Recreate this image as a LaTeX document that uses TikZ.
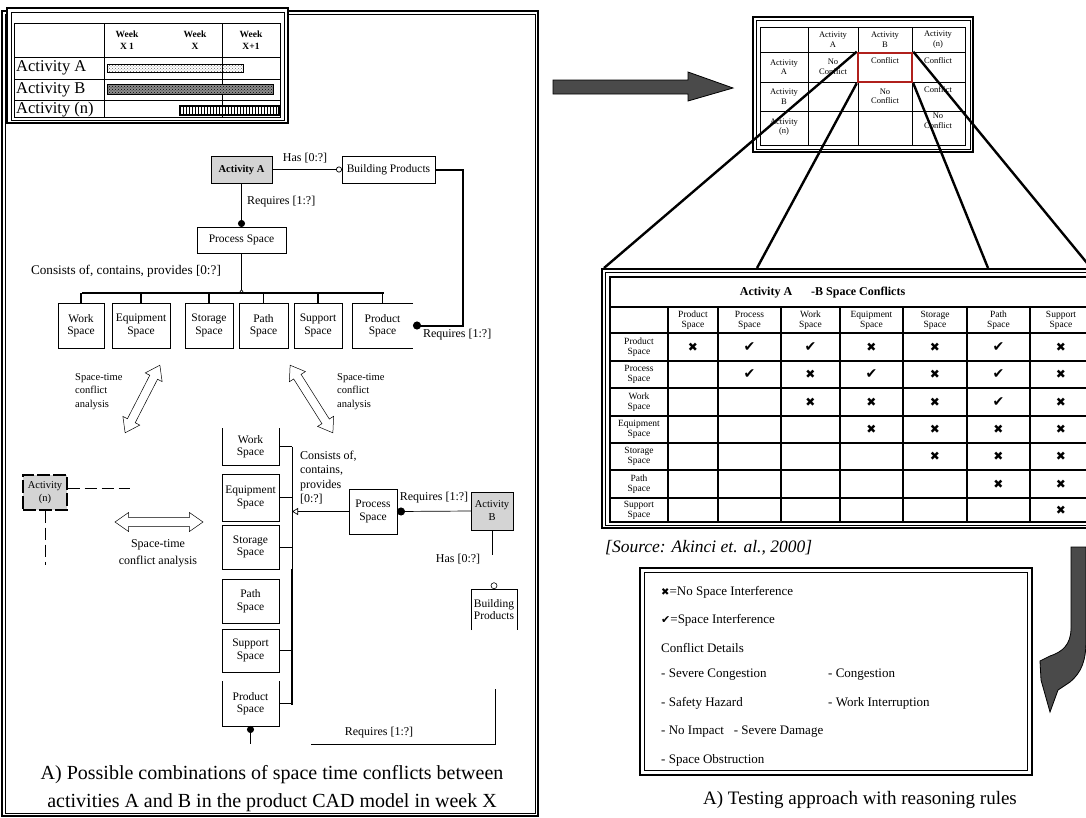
\documentclass[tikz,border=0pt]{standalone}
\usepackage{fontspec}
\setmainfont{Liberation Serif}
\newfontfamily\symf{DejaVu Sans}
\usetikzlibrary{arrows.meta,shapes.arrows,patterns}
\definecolor{gfill}{HTML}{D4D4D4}
\definecolor{agray}{HTML}{4A4A4A}
\definecolor{cred}{HTML}{B0201C}
\newcommand\fsz[2]{\fontsize{#1}{#2}\selectfont}
\newcommand\bx[7][]{\pgfmathsetmacro\bxw{#5-#3}\pgfmathsetmacro\bxh{#6-#4}%
 \node[bxs,minimum width=\bxw pt,minimum height=\bxh pt,#1] (#2) at ({(#3+#5)/2},{(#4+#6)/2}) {#7};}
\begin{document}
\begin{tikzpicture}[x=1pt,y=-1pt,
 bxs/.style={draw,line width=0.7pt,inner sep=0pt,outer sep=0pt,align=center,font=\fsz{11.5}{12.5}},
 lbl/.style={inner sep=0pt,outer sep=0pt,align=left,font=\fsz{12}{13}},
 stl/.style={inner sep=0pt,align=left,font=\fsz{10.5}{13.5}},
 dbl/.style={double arrow,draw,line width=0.5pt,fill=white,double arrow head extend=5pt,double arrow tip angle=70,minimum width=19pt,inner xsep=0pt,inner ysep=4pt},
 sm/.style={inner sep=0pt,align=center,font=\fsz{8.5}{9.5}},
 th/.style={inner sep=0pt,align=center,font=\fsz{9.5}{10}},
 cx/.style={inner sep=0pt,font=\symf\fsz{12}{12}},
 ck/.style={inner sep=0pt,font=\symf\fsz{14}{14}},
 leg/.style={inner sep=0pt,anchor=west,font=\fsz{13}{13}},
 cone/.style={line width=2.4pt},
 vln/.style={line width=1.6pt},
 hln/.style={line width=1.1pt}]
\useasboundingbox (0,0) rectangle (1086,817);
\fill[white] (0,0) rectangle (1086,817);

% ===== left panel frame =====
\draw[line width=1.2pt] (2,11) rectangle (538,816);
\draw[line width=0.6pt] (5,14) rectangle (535,813);

% ===== schedule table =====
\fill[white] (7,8) rectangle (288,123);
\draw[line width=1.5pt] (7,8) rectangle (288,123);
\draw[line width=0.8pt] (11,12) rectangle (284,120);
\draw[line width=1pt] (14,23) rectangle (280,117);
\foreach \yy in {57,79,100} \draw[line width=1pt] (14,\yy) -- (280,\yy);
\draw[line width=1pt] (104,23) -- (104,117);
\draw[line width=1pt] (222,23) -- (222,117);
\node[inner sep=0pt,align=center,font=\bfseries\fsz{9.5}{12}] (w1) at (127,40) {Week\\X 1};
\node[inner sep=0pt,align=center,font=\bfseries\fsz{9.5}{12}] (w2) at (195,40) {Week\\X};
\node[inner sep=0pt,align=center,font=\bfseries\fsz{9.5}{12}] (w3) at (251,40) {Week\\X+1};
\node[inner sep=0pt,anchor=west,font=\fsz{16.5}{16}] (rA) at (16,68) {Activity A};
\node[inner sep=0pt,anchor=west,font=\fsz{16.5}{16}] (rB) at (16,89.5) {Activity B};
\node[inner sep=0pt,anchor=west,font=\fsz{16.5}{16}] (rN) at (16,109.5) {Activity (n)};
\draw[pattern=crosshatch dots,pattern color=black!60,line width=0.8pt] (107,64) rectangle (243,72);
\fill[black!45] (107,84) rectangle (273,94);
\draw[pattern=crosshatch dots,line width=0.8pt] (107,84) rectangle (273,94);
\draw[pattern=vertical lines,line width=1.5pt] (180,106) rectangle (279,115);

% ===== upper class diagram =====
\bx[fill=gfill,font=\bfseries\fsz{10.5}{12}]{actA}{211}{156}{272}{183}{Activity A}
\bx{bp}{342}{156}{435}{183}{Building Products}
\bx{ps}{197}{227}{286}{253}{Process Space}
\node[lbl] (has1) at (305,158) {Has [0:?]};
\node[lbl,anchor=west] (req1) at (247,202) {Requires [1:?]};
\node[lbl,anchor=west,font=\fsz{13.2}{14}] (cons1) at (31,271) {Consists of, contains, provides [0:?]};
\draw[line width=0.7pt,-{Circle[open,length=6pt,width=6pt]}] (actA.east) -- (bp.west);
\draw[line width=0.9pt,-{Circle[length=7pt,width=7pt]}] (actA.south) -- (ps.north);

\bx{ws1}{58}{303}{104}{348}{Work\\Space}
\bx{eq1}{112}{303}{170}{348}{Equipment\\Space}
\bx{st1}{185}{303}{233}{348}{Storage\\Space}
\bx{pa1}{239}{303}{288}{348}{Path\\Space}
\bx{su1}{294}{303}{342}{348}{Support\\Space}
\bx[draw=none]{pd1}{352}{303}{413}{348}{Product\\Space}
\draw[line width=0.7pt] (pd1.north east) -- (pd1.north west) -- (pd1.south west) -- (pd1.south east);

\coordinate (bar) at (82,293);
\coordinate (barR) at (384,293);
\draw[line width=0.7pt,-{Triangle[open,reversed,length=4pt,width=5pt]}] (ps.south) -- (ps.south |- bar);
\draw[line width=2pt] (bar) -- (barR);
\foreach \n in {ws1,eq1,st1,pa1,su1,pd1} \draw[line width=1.3pt] (\n.north) -- (\n.north |- bar);

\coordinate (bpc) at (463,325.5);
\draw[line width=2pt,-{Circle[length=8pt,width=8pt]}] (bp.east) -| (bpc) -- (pd1.east);
\node[lbl,anchor=north west] (req2) at (423,329) {Requires [1:?]};

% space-time arrows
\node[dbl,minimum height=76pt,rotate=62.8] (sta1) at (142.5,399) {};
\node[dbl,minimum height=80pt,rotate=-57.7] (sta2) at (311.5,399) {};
\node[dbl,minimum height=88pt] (sta3) at (159,522) {};
\node[stl,anchor=north west] (stl1) at (75,373) {Space-time\\conflict\\analysis};
\node[stl,anchor=north west] (stl2) at (337,373) {Space-time\\conflict\\analysis};
\node[inner sep=0pt,align=center,font=\fsz{12}{17}] (stl3) at (158,553) {Space-time\\conflict analysis};

% activity (n)
\node[fill=gfill,draw,line width=1.2pt,dash pattern=on 13pt off 3pt,minimum width=44pt,minimum height=35pt,inner sep=0pt,align=center,font=\fsz{10.5}{13}] (actn) at (45,492.5) {Activity\\(n)};
\coordinate (dn1) at (130,488);
\coordinate (dn2) at (45,565);
\draw[line width=1pt,dash pattern=on 12pt off 5pt] (actn.east |- dn1) -- (dn1);
\draw[line width=1pt,dash pattern=on 12pt off 5pt] (actn.south) -- (dn2);

% ===== lower class diagram =====
\bx[draw=none]{ws2}{222}{428}{279}{465}{Work\\Space}
\draw[line width=0.7pt] (ws2.north west) -- (ws2.south west) -- (ws2.south east) -- (ws2.north east);
\bx{eq2}{222}{474}{279}{521}{Equipment\\Space}
\bx{st2}{222}{525}{279}{569}{Storage\\Space}
\bx{pa2}{222}{579}{279}{623}{Path\\Space}
\bx{su2}{222}{629}{279}{672}{Support\\Space}
\bx[draw=none]{pd2}{222}{681}{279}{726}{Product\\Space}
\draw[line width=0.7pt] (pd2.north west) -- (pd2.south west) -- (pd2.south east) -- (pd2.north east);

\coordinate (brT) at (292,446.5);
\coordinate (brM) at (292,569);
\coordinate (brB) at (292,705);
\draw[line width=0.7pt] (brT) -- (brM);
\draw[line width=1.8pt] (brM) -- (brB);
\draw[line width=0.7pt] (ws2.east) -- (ws2.east -| brT);
\draw[line width=1.8pt] (eq2.east) -- (eq2.east -| brT);
\draw[line width=0.7pt] (st2.east) -- (st2.east -| brT);
\draw[line width=0.7pt] (su2.east) -- (su2.east -| brT);
\draw[line width=1.8pt] (pd2.east) -- (pd2.east -| brT);

\bx{ps2}{349}{489}{397}{534}{Process\\Space}
\bx[fill=gfill,font=\fsz{10.5}{13}]{actB}{471}{492}{513}{530}{Activity\\B}
\bx[draw=none]{bp2}{471}{589}{517}{630}{Building\\Products}
\draw[line width=0.7pt] (bp2.south west) -- (bp2.north west) -- (bp2.north east) -- (bp2.south east);
\node[circle,draw,line width=0.6pt,fill=white,minimum size=6pt,inner sep=0pt,anchor=south] (bp2c) at (bp2.north) {};

\draw[line width=0.7pt,-{Triangle[open,length=6pt,width=7pt]}] (ps2.west) -- (ps2.west -| brT);
\draw[line width=0.7pt,{Circle[length=8pt,width=8pt]}-] (ps2.east) -- (actB.west);
\node[lbl,anchor=north west,font=\fsz{12}{14.5}] (cons2) at (300,451) {Consists of,\\contains,\\provides\\{}[0:?]};
\node[lbl] (req3) at (434,498) {Requires [1:?]};
\coordinate (hasB) at (492,555);
\draw[line width=0.7pt] (actB.south) -- (actB.south |- hasB);
\node[lbl] (has2) at (458,559) {Has [0:?]};

\coordinate (pdb) at (250,744);
\draw[line width=0.9pt,{Circle[length=7pt,width=7pt]}-] (pd2.south) -- (pd2.south |- pdb);
\coordinate (rq1) at (311,744);
\coordinate (rq2) at (495,744);
\coordinate (rq3) at (495,689);
\draw[line width=0.8pt] (rq1) -- (rq2) -- (rq3);
\node[lbl] (req4) at (379,733) {Requires [1:?]};

\node[inner sep=0pt,align=center,font=\fsz{20}{28}] (capL) at (272,789) {A) Possible combinations of space time conflicts between\\activities A and B in the product CAD model in week X};

% ===== top arrow =====
\draw[fill=agray,line width=0.8pt] (553,80) -- (688,80) -- (688,72) -- (733,88) -- (688,101) -- (688,94) -- (553,94) -- cycle;

% ===== small matrix (top right) =====
\draw[line width=1.5pt] (753,17) rectangle (973,152);
\draw[line width=0.7pt] (756,20) rectangle (970,149);
\draw[line width=0.9pt] (760,27) rectangle (965,145);
\foreach \xx in {808,858,912} \draw[line width=0.9pt] (\xx,27) -- (\xx,145);
\foreach \yy in {52,82,111} \draw[line width=0.9pt] (760,\yy) -- (965,\yy);
\node[sm] (mh1) at (833,39.5) {Activity\\A};
\node[sm] (mh2) at (885,39.5) {Activity\\B};
\node[sm] (mh3) at (938,39.5) {Activity\\(n)};
\node[sm] (mr1) at (784,67) {Activity\\A};
\node[sm] (mr2) at (784,96.5) {Activity\\B};
\node[sm] (mr3) at (784,127) {Activity\\(n)};
\node[sm] (mc11) at (833,67) {No\\Conflict};
\node[sm] (mc12) at (885,61) {Conflict};
\node[sm] (mc13) at (938,61) {Conflict};
\node[sm] (mc22) at (885,96.5) {No\\Conflict};
\node[sm] (mc23) at (938,90) {Conflict};
\node[sm] (mc33) at (938,121) {No\\Conflict};

% ===== zoom lines =====
\node[draw=cred,line width=2.6pt,minimum width=54pt,minimum height=29pt,inner sep=0pt] (redbox) at (885,67.5) {};
\coordinate (z1) at (604,268);
\coordinate (z2) at (757,268);
\coordinate (z3) at (988,268);
\coordinate (z4) at (1087,263);
\draw[cone] (redbox.north west) -- (z1);
\draw[cone] (redbox.south west) -- (z2);
\draw[cone] (redbox.south east) -- (z3);
\draw[cone] (redbox.north east) -- (z4);
\node[draw=cred,line width=2.6pt,minimum width=54pt,minimum height=29pt,inner sep=0pt] (redbox2) at (885,67.5) {};

% ===== big conflict table =====
\fill[white] (602,269) rectangle (1092,528);
\draw[line width=1.6pt] (602,269) rectangle (1092,528);
\draw[line width=0.6pt] (605,272) rectangle (1092,525);
\draw[line width=1.1pt] (610,277) rectangle (1092,522);
\foreach \xx in {668,718,781,840,903,967,1030} \draw[vln] (\xx,307) -- (\xx,522);
\draw[vln] (610,277) -- (610,522);
\foreach \yy in {307,333,361,388,416,443,470,498} \draw[hln] (610,\yy) -- (1092,\yy);
\node[inner sep=0pt,font=\bfseries\fsz{12}{12}] (ttlA) at (766,293) {Activity A};
\node[inner sep=0pt,anchor=west,font=\bfseries\fsz{12}{12}] (ttlB) at (811,293) {-B Space Conflicts};
\foreach \xx/\tt [count=\i] in {693/Product,749.5/Process,810.5/Work,871.5/Equipment,935/Storage,998.5/Path,1061/Support}
  \node[th] (hc\i) at (\xx,320) {\tt\\Space};
\foreach \yy/\tt [count=\i] in {347/Product,374.5/Process,402/Work,429.5/Equipment,456.5/Storage,484/Path,510/Support}
  \node[th] (hr\i) at (639,\yy) {\tt\\Space};
\foreach \xx/\yy [count=\i] in {749.5/347,810.5/347,998.5/347,749.5/374.5,871.5/374.5,998.5/374.5,998.5/402}
  \node[ck] (ck\i) at (\xx,\yy) {✔};
\foreach \xx/\yy [count=\i] in {693/347,871.5/347,935/347,1061/347,810.5/374.5,935/374.5,1061/374.5,810.5/402,871.5/402,935/402,1061/402,871.5/429.5,935/429.5,998.5/429.5,1061/429.5,935/456.5,998.5/456.5,1061/456.5,998.5/484,1061/484,1061/510}
  \node[cx] (cx\i) at (\xx,\yy) {✖};

\node[inner sep=0pt,anchor=west,font=\itshape\fsz{17.5}{17}] (src) at (605,548) {[Source: Akinci et. al., 2000]};

% ===== curved arrow =====
\draw[fill=agray,line width=0.8pt] (1071,547) -- (1071,628) .. controls (1071,645) and (1062,652) .. (1050,656) -- (1040,661) -- (1041,680) -- (1050,712) -- (1058,690) -- (1070,682) .. controls (1082,672) and (1086,660) .. (1086,640) -- (1086,547) -- cycle;

% ===== legend =====
\draw[line width=2pt] (640,568) rectangle (1032,775);
\draw[line width=0.8pt] (644,572) rectangle (1027,770);
\node[leg] (lg1) at (661,592) {{\symf\fsz{10}{10}✖}=No Space Interference};
\node[leg] (lg2) at (661,620) {{\symf\fsz{11}{11}✔}=Space Interference};
\node[leg] (lg3) at (661,648) {Conflict Details};
\node[leg] (lg4) at (661,675) {- Severe Congestion};
\node[leg] (lg5) at (828,675) {- Congestion};
\node[leg] (lg6) at (661,703) {- Safety Hazard};
\node[leg] (lg7) at (828,703) {- Work Interruption};
\node[leg] (lg8) at (661,732) {- No Impact \ \ - Severe Damage};
\node[leg] (lg9) at (661,760) {- Space Obstruction};

\node[inner sep=0pt,font=\fsz{19}{19}] (capR) at (860,800) {A) Testing approach with reasoning rules};
\end{tikzpicture}
\end{document}
